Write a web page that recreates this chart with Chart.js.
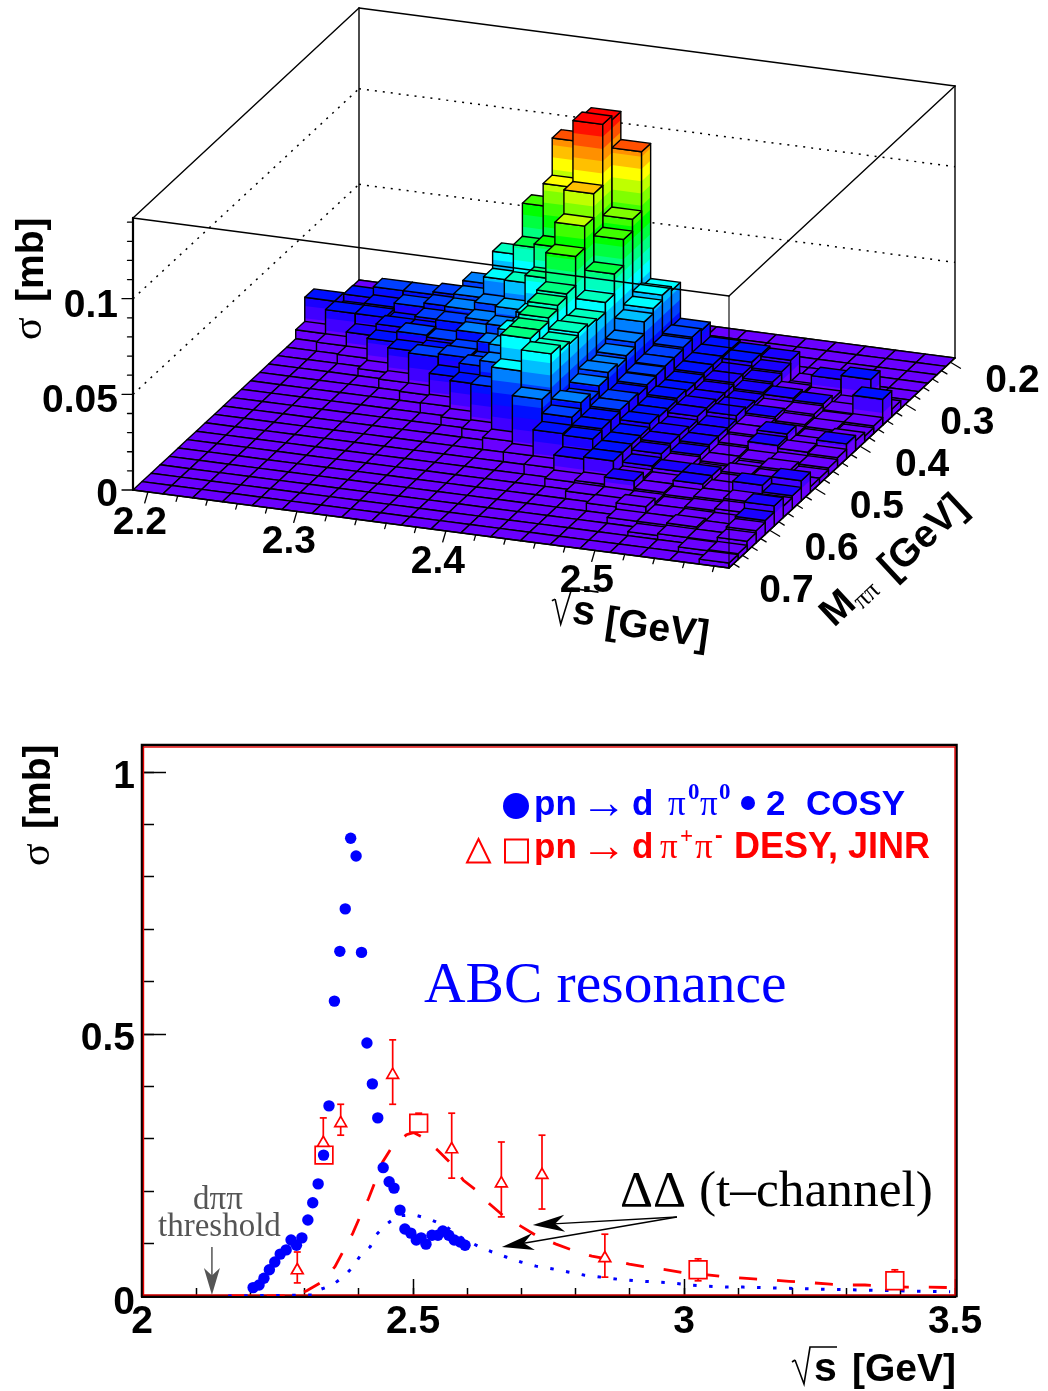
<!DOCTYPE html>
<html><head><meta charset="utf-8">
<style>html,body{margin:0;padding:0;background:#fff}#wrap{position:relative;width:1048px;height:1391px;overflow:hidden}canvas{position:absolute;left:0;top:0}</style>
<script src="https://cdn.jsdelivr.net/npm/chart.js@4/dist/chart.umd.js"></script>
</head><body><div id="wrap"><canvas id="lower" width="1048" height="1391"></canvas><canvas id="lego" width="1048" height="690"></canvas></div>
<script>
// ---------- DATA: 3D lego (sigma per bin, in microbarn) ----------
const sqrtSEdges=[2.19,2.21,2.23,2.25,2.27,2.29,2.31,2.33,2.35,2.37,2.39,2.41,2.43,2.45,2.47,2.49,2.51,2.53,2.55,2.57,2.59];
const massEdges=[0.19,0.21,0.23,0.25,0.27,0.29,0.31,0.33,0.35,0.37,0.39,0.41,0.43,0.45,0.47,0.49,0.51,0.53,0.55,0.57,0.59,0.61,0.63,0.65,0.67,0.69];
const sigmaUb=[
[0,0,0,0,0,0,0,0,0,0,0,0,0,0,0,0,0,0,0,0],
[0,0,0,0,0,0,0,0,0,0,0,0,0,0,0,0,0,0,0,0],
[0,0,0,0,0,0,0,0,0,0,0,0,0,0,0,0,0,0,0,0],
[0,0,0,0,0,0,0,0,0,0,0,0,0,0,0,0,0,0,0,0],
[4.2,16.7,22.5,22.5,24,31.9,49.2,76.4,112.5,126,111.4,40.8,22,14.5,13.6,12.6,1.5,0,0,0],
[17.3,13.1,18.3,20.4,22.5,29.3,40.3,59.1,93.1,128.1,80.5,42.9,23,15,14,11,2,11,13.1,0],
[4.7,17.3,17.3,15.7,19.9,27.2,31.4,45,65.9,96.2,74.3,40.3,22,15,12,10,6,5,3,4],
[0,4.7,12,18.3,18.3,24.6,27.7,35.6,53.9,83.7,60.7,37.7,21,15,12,9,8,7,4,13.6],
[0,0,4.7,15.2,20.9,19.9,25.6,30.9,39.2,72.2,50.2,31.4,21,14,11,8,6,6,3.5,4],
[0,0,0,3.7,16.7,18.3,20.9,26.2,36.6,57,45,28.8,20.5,14,11,9,7,5,4,3],
[0,0,0,0,4.7,20.4,22,20.9,39.2,55.4,46,27.2,20,15,12,10,6,4,3,5],
[0,0,0,0,0,4.7,16.2,23.5,35.6,53.3,47.6,28.8,19,14,12,8,6,8.9,4,7.8],
[0,0,0,0,0,0,5.2,18.8,31.4,51.3,46,26.2,20,14,10,8,5,7.3,5.8,5],
[0,0,0,0,0,0,0,4.2,23.5,51.3,47.1,23,20,15,11,8,4,3,4,4],
[0,0,0,0,0,0,0,0,4.7,38.7,49.7,26.2,19,13,11,7,4,2,5,3],
[0,0,0,0,0,0,0,0,0,6.3,30.3,23,19,13,10,6,3,5,4,3],
[0,0,0,0,0,0,0,0,0,0,5.2,18.8,18,13,8,7,7,4,5,10.5],
[0,0,0,0,0,0,0,0,0,0,0,5.2,12,13,6,5,7,5,10.5,7],
[0,0,0,0,0,0,0,0,0,0,0,0,4.2,5.2,9,5,4,5,6,6],
[0,0,0,0,0,0,0,0,0,0,0,0,0,4,4,4,3,4,5,10.5],
[0,0,0,0,0,0,0,0,0,0,0,0,0,0,4.2,6.3,3.1,3.1,3.1,7.3],
[0,0,0,0,0,0,0,0,0,0,0,0,0,0,0,3.1,3.1,4.2,3.1,6.3],
[0,0,0,0,0,0,0,0,0,0,0,0,0,0,0,0,2.1,3.1,3.1,5.2],
[0,0,0,0,0,0,0,0,0,0,0,0,0,0,0,0,0,0,2.6,3.1],
[0,0,0,0,0,0,0,0,0,0,0,0,0,0,0,0,0,0,0,2.6]];
const palette=['#6a00ff','#4000ff','#1a00ff','#0010ff','#0040ff','#0080ff','#00bfff','#00ffff','#00ffbf','#00ff80','#00ff40','#00ff00','#40ff00','#80ff00','#bfff00','#ffff00','#ffc000','#ff9000','#ff5000','#ff1000','#ff0000'];
const sTicks3D=[2.2,2.3,2.4,2.5];
const mTicks3D=[0.2,0.3,0.4,0.5,0.6,0.7];
const zTicks3D=[0,0.05,0.1];
// ---------- DATA: lower panel ----------
const cosyX=[2.205,2.216,2.225,2.235,2.245,2.255,2.266,2.275,2.285,2.295,2.306,2.315,2.325,2.335,2.345,2.355,2.365,2.375,2.385,2.395,2.405,2.415,2.425,2.435,2.445,2.456,2.465,2.476,2.485,2.496,2.506,2.515,2.524,2.535,2.546,2.555,2.566,2.576,2.587,2.596];
const cosyY=[.016,.021,.034,.050,.065,.080,.088,.107,.097,.111,.145,.178,.214,.269,.363,.563,.658,.739,.874,.840,.656,.483,.405,.340,.245,.218,.206,.164,.128,.120,.107,.111,.099,.116,.116,.124,.116,.107,.103,.097];
const desyX=[2.2865,2.3345,2.3666,2.4625,2.5714,2.663,2.738,2.854];
const desyY=[.049,.292,.330,.422,.280,.215,.231,.072];
const desyHi=[.084,.340,.366,.489,.349,.294,.307,.118];
const desyLo=[.025,.269,.307,.366,.225,.151,.166,.036];
const jinrX=[2.3358,2.5105,3.026,3.389];
const jinrY=[.269,.330,.050,.029];
const jinrHi=[.269,.349,.071,.050];
const jinrLo=[.269,.313,.029,.025];
const curveRedX=[2.16,2.28,2.304,2.332,2.356,2.371,2.389,2.402,2.418,2.430,2.444,2.461,2.488,2.501,2.518,2.547,2.570,2.593,2.618,2.642,2.667,2.701,2.728,2.764,2.793,2.830,2.863,2.899,2.931,2.968,3.000,3.039,3.073,3.109,3.156,3.194,3.227,3.264,3.298,3.334,3.368,3.411,3.439,3.496];
const curveRedY=[0,0,.010,.027,.056,.085,.120,.151,.186,.218,.256,.284,.308,.312,.303,.277,.253,.221,.201,.175,.153,.132,.115,.099,.088,.076,.070,.061,.055,.050,.044,.041,.037,.034,.031,.028,.026,.023,.021,.021,.019,.017,.017,.016];
const curveBlueX=[2.159,2.319,2.325,2.351,2.371,2.389,2.402,2.421,2.433,2.451,2.472,2.502,2.530,2.559,2.587,2.620,2.646,2.673,2.699,2.727,2.756,2.786,2.815,2.847,2.878,2.910,2.943,2.978,3.011,3.042,3.076,3.109,3.214,3.343,3.491];
const curveBlueY=[0,.002,.011,.021,.036,.055,.076,.094,.118,.137,.153,.155,.147,.134,.113,.095,.084,.074,.065,.057,.052,.046,.040,.036,.032,.029,.027,.025,.021,.019,.017,.017,.014,.011,.008];
const thresholdX=2.129;
const arrowTailX=2.987, arrowTailY=.151;
const arrowHeadsX=[2.721,2.664], arrowHeadsY=[.1355,.0935];

Chart.defaults.animation=false;
Chart.defaults.responsive=false;
const SANS="'Liberation Sans'", SERIF="'Liberation Serif'";
function txt(ctx,t,x,y,font,color,align,rot){ctx.save();ctx.translate(x,y);if(rot)ctx.rotate(rot*Math.PI/180);ctx.font=font;ctx.fillStyle=color||'#000';ctx.textAlign=align||'left';ctx.textBaseline='alphabetic';ctx.fillText(t,0,0);ctx.restore();}
function rootS(ctx,x,y,rot,size){ctx.save();ctx.translate(x,y);ctx.rotate((rot||0)*Math.PI/180);ctx.strokeStyle='#000';ctx.lineWidth=1.6;ctx.lineJoin='miter';
 ctx.beginPath();ctx.moveTo(-25,-19);ctx.lineTo(-22,-21);ctx.stroke();
 ctx.beginPath();ctx.moveTo(-22,-21);ctx.lineTo(-13,3);ctx.lineTo(-7,-34);ctx.lineTo(20,-34);ctx.stroke();
 ctx.font='bold '+(size+2)+'px '+SANS;ctx.fillStyle='#000';ctx.fillText('s',-3,0);ctx.restore();}

// ---------- 3D chart ----------
const sMin=sqrtSEdges[0], sMax=sqrtSEdges[sqrtSEdges.length-1], mMin=massEdges[0], mMax=massEdges[massEdges.length-1];
const zBoxTop=0.1422, levelWidth=0.0064;
function proj(s,m,z){const u=(s-sMin)/(sMax-sMin),v=(mMax-m)/(mMax-mMin);return {x:133+596*u+226*v,y:490+78*u-210*v-1913*z};}
const layers=[];
function poly(pts,o){layers.push({data:pts,showLine:true,fill:o.fill?'shape':false,backgroundColor:o.fill||'transparent',borderColor:o.stroke||'transparent',borderWidth:o.stroke?(o.width||1.4):0,borderDash:o.dash||[10000,0],pointRadius:0,tension:0,borderJoinStyle:'round',borderCapStyle:o.dash?'butt':'round'});}
function seg(a,b,w,dash,c){poly([a,b],{stroke:c||'#000',width:w||1.4,dash});}
seg(proj(sMin,mMin,0),proj(sMin,mMin,zBoxTop));
seg(proj(sMax,mMin,0),proj(sMax,mMin,zBoxTop));
seg(proj(sMin,mMin,zBoxTop),proj(sMax,mMin,zBoxTop));
seg(proj(sMin,mMax,zBoxTop),proj(sMin,mMin,zBoxTop));
seg(proj(sMin,mMin,0),proj(sMax,mMin,0));
zTicks3D.slice(1).forEach(z=>{seg(proj(sMin,mMax,z),proj(sMin,mMin,z),1.5,[2,6]);seg(proj(sMin,mMin,z),proj(sMax,mMin,z),1.5,[2,6]);});
function level(z){return Math.min(palette.length-1,Math.floor(z/levelWidth));}
function face(a,b,h){
 for(let L=level(h);L>=0;L--){const t=Math.min(h,(L+1)*levelWidth);
  poly([proj(a[0],a[1],0),proj(b[0],b[1],0),proj(b[0],b[1],t),proj(a[0],a[1],t),proj(a[0],a[1],0)],{fill:palette[L]});}
 poly([proj(a[0],a[1],0),proj(b[0],b[1],0),proj(b[0],b[1],h),proj(a[0],a[1],h),proj(a[0],a[1],0)],{stroke:'#000'});
}
for(let j=0;j<sigmaUb.length;j++){for(let i=0;i<sigmaUb[j].length;i++){
 const h=sigmaUb[j][i]/1000,s0=sqrtSEdges[i],s1=sqrtSEdges[i+1],m0=massEdges[j],m1=massEdges[j+1];
 if(h>0){face([s0,m1],[s1,m1],h);face([s1,m1],[s1,m0],h);}
 const topL=h>=levelWidth?Math.min(palette.length-1,level(h)+1):0;
 poly([proj(s0,m0,h),proj(s1,m0,h),proj(s1,m1,h),proj(s0,m1,h),proj(s0,m0,h)],{fill:palette[topL],stroke:'#000'});
}}
seg(proj(sMin,mMax,zBoxTop),proj(sMax,mMax,zBoxTop));
seg(proj(sMax,mMax,zBoxTop),proj(sMax,mMin,zBoxTop));
seg(proj(sMax,mMax,0),proj(sMax,mMax,zBoxTop),1.1);
seg(proj(sMin,mMax,0),proj(sMin,mMax,zBoxTop),2.2);
seg(proj(sMin,mMax,0),proj(sMax,mMax,0),1.6);
seg(proj(sMax,mMax,0),proj(sMax,mMin,0),1.6);
function off(p,dx,dy){return {x:p.x+dx,y:p.y+dy};}
for(let k=0;k<=19;k++){const s=2.2+0.02*k,p=proj(s,mMax,0),len=k%5===0?1:0.5;seg(p,off(p,-3.2*len,11*len),1.3);}
for(let k=0;k<=24;k++){const m=0.2+0.02*k,p=proj(sMax,m,0),len=k%5===0?1:0.55;seg(p,off(p,10*len,6*len),1.3);}
for(let k=0;k<=14;k++){const z=0.01*k,p=proj(sMin,mMax,z),len=k%5===0?11:5.5;seg(p,off(p,-len,0),1.3);}
layers.reverse();
const legoTexts={id:'legoTexts',afterDraw(ch){const c=ch.ctx,f='bold 39px '+SANS;
 sTicks3D.forEach(s=>{const p=proj(s,mMax,0);txt(c,s.toFixed(1),p.x-8,p.y+42,f,'#000','center');});
 mTicks3D.forEach(m=>{const p=proj(sMax,m,0);txt(c,m.toFixed(1),p.x+62,p.y+30,f,'#000','center');});
 zTicks3D.forEach((z,i)=>{const p=proj(sMin,mMax,z);txt(c,String(z),118,p.y+16+(i?2:0),f,'#000','right');});
 txt(c,'σ',41,340,'42px '+SERIF,'#000','left',-90);
 txt(c,'[mb]',43,302,f,'#000','left',-90);
 rootS(c,574,623,8,39);
 txt(c,'[GeV]',604,633,f,'#000','left',8);
 txt(c,'M',834,628,f,'#000','left',-43);
 txt(c,'ππ',862,610,'26px '+SERIF,'#000','left',-43);
 txt(c,'[GeV]',893,581,f,'#000','left',-43);
}};
new Chart(document.getElementById('lego'),{type:'scatter',data:{datasets:layers},plugins:[legoTexts],
 options:{layout:{padding:0},plugins:{legend:{display:false},tooltip:{enabled:false}},events:[],
  scales:{x:{type:'linear',min:0,max:1048,display:false},y:{type:'linear',min:0,max:690,reverse:true,display:false}}}});

// ---------- lower panel ----------
const zip=(a,b)=>a.map((v,i)=>({x:v,y:b[i]}));
const lowerSets=[];
lowerSets.push({label:'COSY',data:zip(cosyX,cosyY),pointStyle:'circle',pointRadius:5.7,pointBorderWidth:0,pointBackgroundColor:'#0000ff',showLine:false,order:0});
lowerSets.push({label:'DESY',data:zip(desyX,desyY),pointStyle:'triangle',pointRadius:6.8,pointBorderWidth:1.7,pointBorderColor:'#ff0000',pointBackgroundColor:'#fff',showLine:false,order:1});
lowerSets.push({label:'JINR',data:zip(jinrX,jinrY),pointStyle:'rect',pointRadius:12.5,pointBorderWidth:1.7,pointBorderColor:'#ff0000',pointBackgroundColor:'rgba(255,255,255,1)',showLine:false,order:2});
desyX.forEach((x,i)=>lowerSets.push({data:[{x,y:desyLo[i]},{x,y:desyHi[i]}],showLine:true,borderColor:'#ff0000',borderWidth:1.7,pointStyle:'line',pointRadius:3.5,pointBorderWidth:1.7,pointBorderColor:'#ff0000',order:3}));
jinrX.forEach((x,i)=>{if(jinrHi[i]>jinrLo[i])lowerSets.push({data:[{x,y:jinrLo[i]},{x,y:jinrHi[i]}],showLine:true,borderColor:'#ff0000',borderWidth:1.7,pointStyle:'line',pointRadius:3.5,pointBorderWidth:1.7,pointBorderColor:'#ff0000',order:3});});
lowerSets.push({label:'theory red',data:zip(curveRedX,curveRedY),showLine:true,borderColor:'#ff0000',borderWidth:2.8,borderDash:[18,20],pointRadius:0,tension:0,order:5});
lowerSets.push({label:'theory blue',data:zip(curveBlueX,curveBlueY),showLine:true,borderColor:'#0000ff',borderWidth:3,borderDash:[3.5,12.5],pointRadius:0,tension:0,order:4});

function arrow(c,x0,y0,x1,y1,color,lw,len,hw,notch){const a=Math.atan2(y1-y0,x1-x0);c.save();c.strokeStyle=color;c.fillStyle=color;c.lineWidth=lw;c.beginPath();c.moveTo(x0,y0);c.lineTo(x1-Math.cos(a)*len*0.5,y1-Math.sin(a)*len*0.5);c.stroke();
 c.translate(x1,y1);c.rotate(a);c.beginPath();c.moveTo(0,0);c.lineTo(-len,-hw);c.lineTo(-len*notch,0);c.lineTo(-len,hw);c.closePath();c.fill();c.restore();}
const frameBack={id:'frameBack',beforeDatasetsDraw(ch){const c=ch.ctx,a=ch.chartArea;c.save();c.strokeStyle='#000';c.lineWidth=2.5;c.strokeRect(a.left,a.top-1,a.right-a.left+1.5,a.bottom-a.top+1);c.strokeStyle='#e00000';c.lineWidth=1.4;c.strokeRect(a.left+1.5,a.top+1,a.right-a.left-1.5,a.bottom-a.top-2);c.restore();}};
const lowerTexts={id:'lowerTexts',afterDraw(ch){const c=ch.ctx,X=ch.scales.x,Y=ch.scales.y,bf='bold 39px '+SANS,lf='bold 35px '+SANS,lf2='bold 36px '+SANS;
 const xp=v=>X.getPixelForValue(v),yp=v=>Y.getPixelForValue(v);
 Y.ticks.forEach(t=>txt(c,String(t.value),135,yp(t.value)+(t.value===0?18:16),bf,'#000','right'));
 txt(c,'σ',49,866,'42px '+SERIF,'#000','left',-90);
 txt(c,'[mb]',50,829,bf,'#000','left',-90);
 rootS(c,817,1381,0,39);
 txt(c,'[GeV]',852,1381,bf,'#000','left');
 c.save();c.fillStyle='#0000ff';c.beginPath();c.arc(516,806,13,0,7);c.fill();c.beginPath();c.arc(748,803,7,0,7);c.fill();c.restore();
 txt(c,'pn',534,815,lf,'#0000ff');txt(c,'→',581,818,'46px '+SERIF,'#0000ff');txt(c,'d',632,815,lf,'#0000ff');
 txt(c,'π',668,815,'35px '+SERIF,'#0000ff');txt(c,'0',688,799,'bold 23px '+SERIF,'#0000ff');txt(c,'π',700,815,'35px '+SERIF,'#0000ff');txt(c,'0',719,799,'bold 23px '+SERIF,'#0000ff');
 txt(c,'2',766,815,lf,'#0000ff');txt(c,'COSY',806,815,lf,'#0000ff');
 c.save();c.strokeStyle='#ff0000';c.lineWidth=2;c.beginPath();c.moveTo(478.5,839);c.lineTo(490,862.5);c.lineTo(467,862.5);c.closePath();c.stroke();c.strokeRect(505,839.5,23,23);c.restore();
 txt(c,'pn',534,858,lf,'#ff0000');txt(c,'→',581,861,'46px '+SERIF,'#ff0000');txt(c,'d',632,858,lf,'#ff0000');
 txt(c,'π',660,858,'35px '+SERIF,'#ff0000');txt(c,'+',680,843,'bold 23px '+SERIF,'#ff0000');txt(c,'π',695,858,'35px '+SERIF,'#ff0000');txt(c,'-',715,843,'bold 23px '+SANS,'#ff0000');
 txt(c,'DESY, JINR',734,858,lf2,'#ff0000');
 txt(c,'ABC resonance',424,1002,'57.5px '+SERIF,'#0000ff');
 txt(c,'ΔΔ (t–channel)',620,1206,'51.4px '+SERIF,'#000');
 txt(c,'dππ',193,1209,'33px '+SERIF,'#555');
 txt(c,'threshold',158,1236,'33px '+SERIF,'#555');
 arrow(c,xp(thresholdX),1247,xp(thresholdX),yp(0)-1,'#555',1.5,27,8,0.72);
 arrowHeadsX.forEach((hx,i)=>arrow(c,xp(arrowTailX),yp(arrowTailY),xp(hx),yp(arrowHeadsY[i]),'#000',1.5,32,8.5,0.7));
}};
const noGrid=len=>({drawOnChartArea:false,drawTicks:true,tickLength:-len,tickColor:'#000',tickWidth:1.5});
new Chart(document.getElementById('lower'),{type:'scatter',data:{datasets:lowerSets},plugins:[frameBack,lowerTexts],
 options:{layout:{padding:{left:0,right:93,top:746,bottom:0}},plugins:{legend:{display:false},tooltip:{enabled:false}},events:[],
  scales:{
   x:{type:'linear',position:'bottom',weight:1,min:2,max:3.5,grid:noGrid(17),border:{color:'#000',width:3},afterFit:s=>{s.height=95;},
      ticks:{stepSize:.5,includeBounds:false,autoSkip:false,maxRotation:0,padding:20,color:'#000',font:{family:SANS,weight:'bold',size:39},callback:v=>String(v)}},
   xMinor:{type:'linear',axis:'x',position:'bottom',weight:0,min:2,max:3.5,grid:noGrid(8),border:{display:false},afterFit:s=>{s.height=0;},
      ticks:{stepSize:.1,includeBounds:false,autoSkip:false,display:false}},
   y:{type:'linear',position:'left',weight:1,min:0,max:1.05,grid:noGrid(24),border:{color:'#000',width:3},afterFit:s=>{s.width=142;},
      ticks:{stepSize:.5,includeBounds:false,autoSkip:false,display:false}},
   yMinor:{type:'linear',axis:'y',position:'left',weight:0,min:0,max:1.05,grid:noGrid(12),border:{display:false},afterFit:s=>{s.width=0;},
      ticks:{stepSize:.1,includeBounds:false,autoSkip:false,display:false}}
  }}});
</script></body></html>
